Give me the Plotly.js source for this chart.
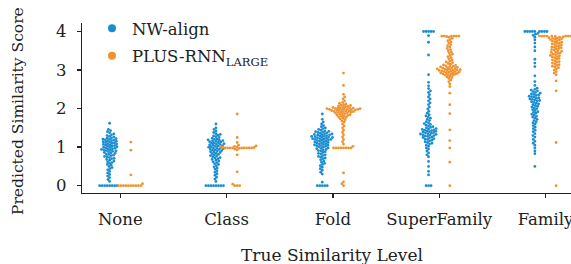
<!DOCTYPE html>
<html><head><meta charset="utf-8">
<script src="https://cdn.plot.ly/plotly-3.0.1.min.js"></script>
<style>html,body{margin:0;padding:0;overflow:hidden;background:#fff}</style>
</head><body><div id="chart" style="width:571px;height:264px"></div>
<script>
const categories = ["None", "Class", "Fold", "SuperFamily", "Family"];
const seriesNames = ["NW-align", "PLUS-RNN<sub>LARGE</sub>"];
const yTicks = [0, 1, 2, 3, 4];

const noneNW = [0,0,0,0,0,0,0,0,0.11,0.16,0.21,0.25,0.29,0.33,0.37,0.41,0.44,0.47,0.5,0.53,0.55,0.58,0.6,0.62,0.64,0.66,0.68,0.7,0.71,0.73,0.75,0.76,0.78,0.79,0.81,0.82,0.84,0.85,0.86,0.88,0.89,0.9,0.91,0.92,0.93,0.94,0.95,0.96,0.97,0.98,0.99,1.0,1.01,1.02,1.03,1.04,1.05,1.06,1.07,1.08,1.09,1.1,1.11,1.12,1.13,1.14,1.15,1.16,1.17,1.18,1.19,1.2,1.21,1.22,1.23,1.24,1.26,1.28,1.3,1.32,1.34,1.37,1.4,1.43,1.46,1.62];
const nonePLUS = [0,0,0,0,0,0,0,0,0,0,0.05,0.28,0.92,1.13];
const classNW = [0,0,0,0,0,0,0,0,0.11,0.17,0.22,0.27,0.31,0.35,0.39,0.43,0.46,0.49,0.52,0.55,0.57,0.6,0.62,0.64,0.66,0.68,0.7,0.72,0.73,0.75,0.77,0.78,0.8,0.81,0.83,0.84,0.86,0.87,0.88,0.9,0.91,0.92,0.93,0.94,0.95,0.96,0.97,0.98,0.99,1.0,1.01,1.02,1.03,1.04,1.05,1.06,1.07,1.08,1.09,1.1,1.11,1.12,1.13,1.14,1.15,1.16,1.17,1.18,1.19,1.2,1.21,1.23,1.25,1.27,1.29,1.31,1.33,1.35,1.38,1.42,1.46,1.5,1.6];
const classPLUS = [0,0,0,0.04,0.36,0.8,0.93,0.95,0.97,0.98,0.98,0.98,0.98,0.98,0.98,0.98,0.98,0.98,0.99,0.99,1.0,1.01,1.02,1.03,1.05,1.12,1.25,1.86];
const foldNW = [0,0,0,0,0,0.09,0.3,0.35,0.4,0.44,0.48,0.52,0.55,0.58,0.61,0.64,0.67,0.7,0.72,0.74,0.76,0.78,0.8,0.82,0.84,0.86,0.88,0.9,0.91,0.93,0.94,0.96,0.97,0.98,1.0,1.01,1.02,1.03,1.04,1.05,1.06,1.07,1.08,1.09,1.1,1.11,1.12,1.13,1.14,1.15,1.16,1.17,1.18,1.19,1.2,1.2,1.21,1.22,1.22,1.23,1.24,1.25,1.25,1.26,1.27,1.28,1.28,1.29,1.3,1.31,1.32,1.32,1.33,1.34,1.35,1.36,1.37,1.38,1.39,1.4,1.41,1.42,1.44,1.46,1.48,1.5,1.53,1.56,1.6,1.65,1.72,1.86];
const foldPLUS = [0,0.05,0.1,0.33,0.98,0.98,0.98,0.98,0.98,0.98,0.98,0.98,1.02,1.08,1.14,1.2,1.26,1.32,1.38,1.44,1.5,1.55,1.6,1.65,1.68,1.71,1.73,1.75,1.77,1.78,1.8,1.81,1.82,1.83,1.84,1.85,1.86,1.87,1.88,1.89,1.9,1.9,1.91,1.92,1.92,1.93,1.94,1.94,1.95,1.95,1.96,1.96,1.97,1.97,1.98,1.98,1.99,1.99,2.0,2.0,2.0,2.01,2.01,2.02,2.02,2.03,2.04,2.05,2.06,2.07,2.08,2.09,2.1,2.12,2.14,2.16,2.2,2.25,2.3,2.37,2.6,2.92];
const superNW = [0,0,0,0.28,0.37,0.5,0.63,0.75,0.8,0.85,0.9,0.95,0.98,1.02,1.05,1.08,1.1,1.12,1.14,1.16,1.18,1.2,1.21,1.22,1.24,1.25,1.26,1.28,1.29,1.3,1.31,1.32,1.33,1.34,1.35,1.36,1.37,1.38,1.39,1.4,1.41,1.42,1.43,1.44,1.45,1.46,1.47,1.48,1.5,1.51,1.53,1.55,1.57,1.59,1.61,1.63,1.66,1.69,1.72,1.75,1.78,1.81,1.84,1.88,1.93,1.99,2.04,2.1,2.15,2.2,2.25,2.3,2.36,2.42,2.46,2.52,2.59,2.68,2.88,3.39,3.72,3.89,4,4,4,4,4];
const superPLUS = [0,0.61,0.98,1.17,1.45,1.87,2.1,2.4,2.57,2.64,2.7,2.74,2.78,2.8,2.82,2.84,2.86,2.87,2.88,2.89,2.9,2.9,2.91,2.92,2.93,2.93,2.94,2.95,2.96,2.96,2.97,2.98,2.99,2.99,3.0,3.0,3.01,3.02,3.02,3.03,3.04,3.05,3.05,3.06,3.07,3.08,3.09,3.1,3.11,3.12,3.13,3.15,3.17,3.19,3.21,3.23,3.26,3.29,3.32,3.35,3.38,3.41,3.44,3.47,3.5,3.53,3.56,3.6,3.63,3.66,3.7,3.73,3.76,3.79,3.82,3.85,3.87,3.88,3.88,3.88,3.88,3.88,3.88];
const familyNW = [0.5,0.83,0.9,0.98,1.05,1.1,1.15,1.2,1.26,1.3,1.35,1.4,1.44,1.48,1.52,1.56,1.6,1.63,1.66,1.69,1.72,1.75,1.78,1.8,1.83,1.85,1.88,1.9,1.92,1.95,1.97,2.0,2.02,2.04,2.06,2.08,2.1,2.12,2.14,2.16,2.18,2.2,2.21,2.22,2.24,2.25,2.27,2.28,2.3,2.31,2.32,2.34,2.35,2.37,2.38,2.4,2.42,2.44,2.46,2.48,2.5,2.53,2.6,2.7,2.85,3.09,3.18,3.28,3.5,3.6,3.7,3.78,3.85,3.9,3.93,3.95,4,4,4,4,4,4,4,4,4];
const familyPLUS = [0,1.12,2.46,2.72,2.88,2.92,2.96,3.0,3.03,3.06,3.08,3.1,3.12,3.14,3.16,3.18,3.2,3.22,3.24,3.26,3.28,3.3,3.32,3.34,3.35,3.37,3.38,3.4,3.41,3.43,3.44,3.46,3.47,3.49,3.5,3.52,3.53,3.55,3.56,3.58,3.59,3.6,3.62,3.63,3.65,3.66,3.68,3.69,3.7,3.72,3.73,3.75,3.76,3.78,3.79,3.8,3.81,3.82,3.83,3.84,3.85,3.86,3.87,3.88,3.88,3.88,3.88,3.88,3.88,3.88,3.88,3.88];

const nwGroups = [noneNW, classNW, foldNW, superNW, familyNW];
const plusGroups = [nonePLUS, classPLUS, foldPLUS, superPLUS, familyPLUS];
const colors = ["#1a8dd0", "#ef9330"];

const W = 571, H = 264, M = {l: 82, r: 0, t: 23, b: 71};
const xRange = [-0.36, 4.24], yRange = [-0.19, 4.22];
const PW = W - M.l - M.r, PH = H - M.t - M.b;
const pxX = PW / (xRange[1] - xRange[0]);
const pxY = PH / (yRange[1] - yRange[0]);
const D = 2.5; // swarm spacing in px
const dodge = 0.1;
const FONT = "DejaVu Serif";

function swarm(vals) {
  const ys = vals.map(v => v * pxY);
  const order = ys.map((y, i) => i).sort((a, b) => ys[a] - ys[b]);
  const placed = [];
  const offs = new Array(vals.length).fill(0);
  for (const i of order) {
    const y = ys[i];
    const near = placed.filter(p => Math.abs(p.y - y) < D);
    const cands = [0];
    for (const p of near) {
      const dx = Math.sqrt(Math.max(0, D * D - (p.y - y) ** 2));
      cands.push(p.x + dx, p.x - dx);
    }
    cands.sort((a, b) => Math.abs(a) - Math.abs(b) || a - b);
    let chosen = 0;
    for (const c of cands) {
      let ok = true;
      for (const p of near) {
        if ((p.x - c) ** 2 + (p.y - y) ** 2 < D * D - 1e-6) { ok = false; break; }
      }
      if (ok) { chosen = c; break; }
    }
    placed.push({x: chosen, y: y});
    offs[i] = chosen;
  }
  return offs;
}

const traces = [];
[nwGroups, plusGroups].forEach((groups, s) => {
  const xs = [], ys = [];
  groups.forEach((vals, c) => {
    const offs = swarm(vals);
    vals.forEach((v, k) => {
      xs.push(c + (s === 0 ? -dodge : dodge) + offs[k] / pxX);
      ys.push(v);
    });
  });
  traces.push({type: "scatter", mode: "markers", x: xs, y: ys, showlegend: false,
    marker: {size: 2.8, color: colors[s], line: {width: 0}}, hoverinfo: "skip"});
});
seriesNames.forEach((n, s) => {
  traces.push({type: "scatter", mode: "markers", x: [null], y: [null], name: n,
    legendgroup: "g" + s, marker: {size: 8, color: colors[s]}});
});

const layout = {
  width: W, height: H, margin: M,
  paper_bgcolor: "#fff", plot_bgcolor: "#fff",
  font: {family: FONT, size: 16.5, color: "#222"},
  showlegend: true,
  legend: {x: (92 - M.l) / PW, y: 1.07, xanchor: "left", yanchor: "top",
    bgcolor: "rgba(0,0,0,0)", tracegroupgap: 3, traceorder: "grouped",
    font: {family: FONT, size: 16.5, color: "#222"}},
  xaxis: {range: xRange, tickvals: [0, 1, 2, 3, 4], ticktext: categories,
    showgrid: false, zeroline: false, showline: true, linecolor: "#222", linewidth: 1.3,
    ticks: "outside", ticklen: 4, tickcolor: "#222", tickwidth: 1.3, ticklabelstandoff: 7,
    ticklabeloverflow: "allow"},
  yaxis: {range: yRange, tickvals: yTicks, showgrid: false, zeroline: false,
    showline: true, linecolor: "#222", linewidth: 1.3,
    ticks: "outside", ticklen: 4, tickcolor: "#222", tickwidth: 1.3, ticklabelstandoff: 7},
  annotations: [
    {text: "True Similarity Level", xref: "paper", yref: "paper",
     x: (332 - M.l) / PW, y: (193 - 255) / PH,
     xanchor: "center", yanchor: "middle", showarrow: false, font: {family: FONT, size: 17}},
    {text: "Predicted Similarity Score", xref: "paper", yref: "paper",
     x: (18 - M.l) / PW, y: 1 - (111 - M.t) / PH, textangle: -90,
     xanchor: "center", yanchor: "middle", showarrow: false, font: {family: FONT, size: 15.5}}
  ]
};
Plotly.newPlot("chart", traces, layout, {displayModeBar: false, staticPlot: true});
</script></body></html>
